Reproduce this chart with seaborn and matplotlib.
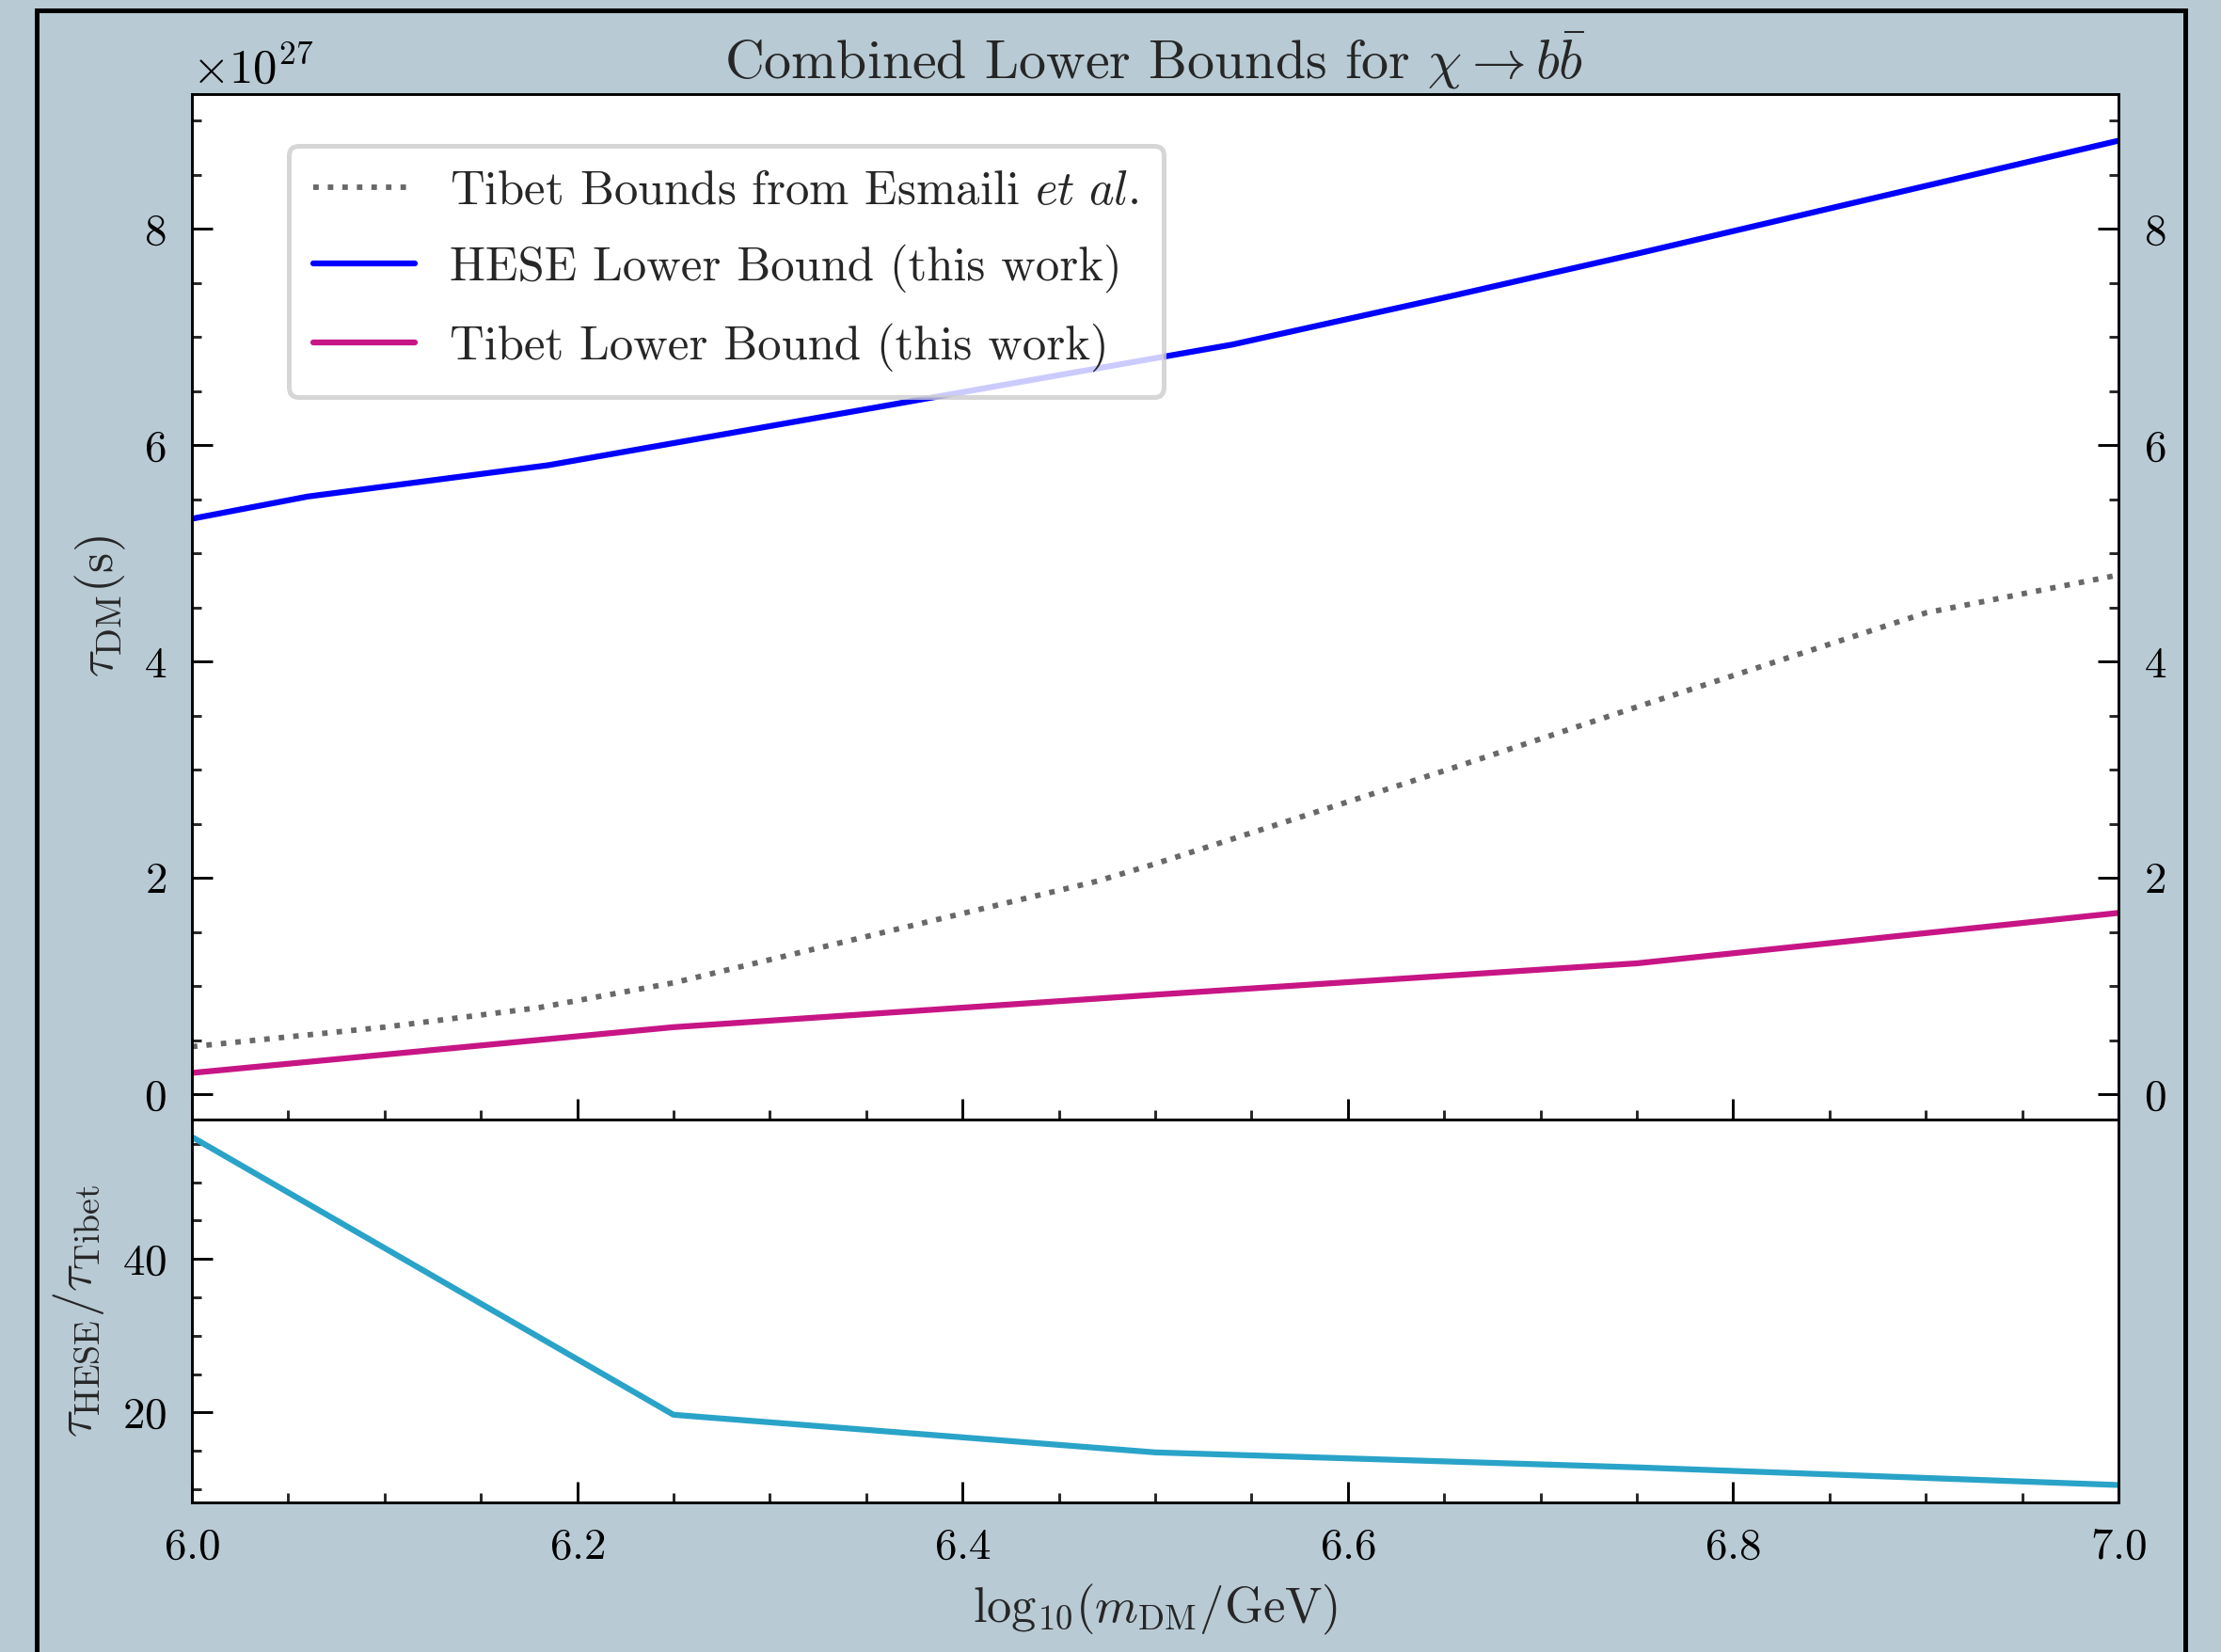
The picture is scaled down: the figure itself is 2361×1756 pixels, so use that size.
import numpy as np
import pandas as pd
import matplotlib
matplotlib.use("Agg")
import matplotlib.pyplot as plt
from matplotlib.ticker import MultipleLocator
from matplotlib.patches import Rectangle
import seaborn as sns

# log10(m_DM / GeV) grids and lifetime bounds (seconds)
esmaili_logm = [6.0, 6.1, 6.18, 6.25, 6.47, 6.5, 6.65, 6.75, 6.9, 7.0]
esmaili_tau = [0.44e27, 0.62e27, 0.80e27, 1.03e27, 1.97e27, 2.13e27,
               2.99e27, 3.58e27, 4.45e27, 4.80e27]

hese_logm = [6.0, 6.06, 6.185, 6.54, 6.654, 6.75, 7.0]
hese_tau = [5.32e27, 5.525e27, 5.815e27, 6.93e27, 7.38e27, 7.77e27, 8.815e27]

tibet_logm = [6.0, 6.25, 6.5, 6.75, 7.0]
tibet_tau = [0.197e27, 0.62e27, 0.92e27, 1.21e27, 1.676e27]

# tau_HESE / tau_Tibet
ratio_logm = [6.0, 6.25, 6.5, 6.75, 7.0]
ratio_values = [55.9, 19.7, 14.8, 12.85, 10.55]

labels = [r"Tibet Bounds from Esmaili $\it{et\ al.}$",
          "HESE Lower Bound (this work)",
          "Tibet Lower Bound (this work)"]

BG = "#b8cad4"

sns.set_style("ticks")
plt.rcParams.update({
    "font.family": "serif",
    "font.serif": ["cmr10"],
    "mathtext.fontset": "cm",
    "axes.formatter.use_mathtext": True,
    "axes.unicode_minus": False,
    "xtick.direction": "in",
    "ytick.direction": "in",
    "axes.linewidth": 0.7,
    "axes.edgecolor": "black",
})

fig = plt.figure(figsize=(2361 / 300, 1756 / 300), dpi=300, facecolor=BG)

left, width = 204 / 2361, 2048 / 2361
ax_top = fig.add_axes([left, 1 - 1190 / 1756, width, 1090 / 1756])
ax_bot = fig.add_axes([left, 1 - 1597 / 1756, width, 407 / 1756], sharex=ax_top)

# outer frame around the whole figure content
fig.add_artist(Rectangle((39 / 2361, -0.2), (2323 - 39) / 2361, 0.2 + 1 - 11 / 1756,
                         transform=fig.transFigure, fill=False, edgecolor="black",
                         linewidth=1.2, zorder=10))

sns.lineplot(x=esmaili_logm, y=esmaili_tau, ax=ax_top, color="#686868",
             linestyle=":", linewidth=1.4, label=labels[0])
sns.lineplot(x=hese_logm, y=hese_tau, ax=ax_top, color="#0000ff",
             linewidth=1.5, label=labels[1])
sns.lineplot(x=tibet_logm, y=tibet_tau, ax=ax_top, color="#c71585",
             linewidth=1.5, label=labels[2])

sns.lineplot(x=ratio_logm, y=ratio_values, ax=ax_bot, color="#2aa3c8",
             linewidth=1.5)

ax_top.set_xlim(6.0, 7.0)

for ax in (ax_top, ax_bot):
    ax.set_facecolor("white")
    ax.tick_params(which="major", length=5.3, width=0.7, labelsize=11.3, pad=6.5,
                   colors="black")
    ax.tick_params(which="minor", length=2.5, width=0.7)
    ax.xaxis.set_major_locator(MultipleLocator(0.2))
    ax.xaxis.set_minor_locator(MultipleLocator(0.05))
    for s in ax.spines.values():
        s.set_linewidth(0.7)
        s.set_color("black")

ax_top.yaxis.set_major_locator(MultipleLocator(2e27))
ax_top.yaxis.set_minor_locator(MultipleLocator(0.5e27))
ax_top.tick_params(axis="y", which="both", left=True, right=True, labelright=True)
ax_top.tick_params(axis="x", which="both", bottom=True, top=False, labelbottom=False)
ax_top.yaxis.get_offset_text().set_fontsize(12.2)

ax_bot.yaxis.set_major_locator(MultipleLocator(20))
ax_bot.yaxis.set_minor_locator(MultipleLocator(5))
ax_bot.tick_params(axis="y", which="both", left=True, right=False)
ax_bot.tick_params(axis="x", which="both", bottom=True, top=False)

ax_top.set_title(r"Combined Lower Bounds for $\chi \rightarrow b\bar{b}$",
                 fontsize=13.9, pad=4)
ax_top.set_xlabel("")
ax_top.set_ylabel(r"$\tau_{\mathrm{DM}}(\mathrm{s})$", fontsize=13)
ax_bot.set_ylabel(r"$\tau_{\mathrm{HESE}}/\tau_{\mathrm{Tibet}}$", fontsize=13)
ax_bot.set_xlabel(r"$\mathrm{log}_{10}(m_{\mathrm{DM}}/\mathrm{GeV})$", fontsize=12.6)

leg = ax_top.legend(loc="upper left", bbox_to_anchor=(0.0503, 0.950),
                    borderaxespad=0, fontsize=12.2, handlelength=2.12,
                    handletextpad=0.72, labelspacing=0.64, borderpad=0.52,
                    frameon=True, fancybox=True, framealpha=0.8)
leg.get_frame().set_linewidth(1.2)
leg.get_frame().set_edgecolor("0.8")

fig.savefig("out.png", dpi=300, facecolor=BG)
